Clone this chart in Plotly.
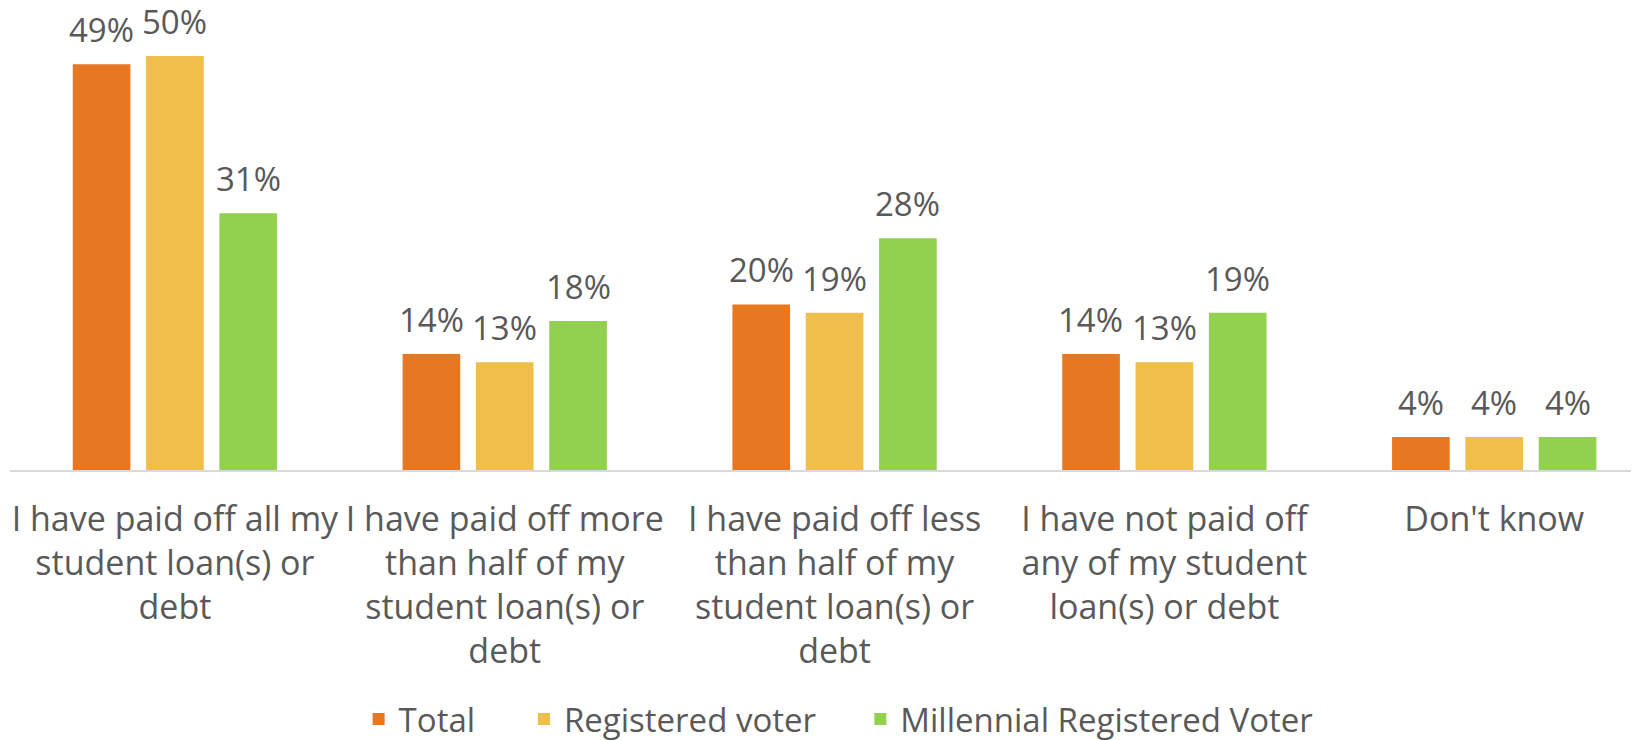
import plotly.graph_objects as go

# Categories and survey shares (percent)
categories = [
    "I have paid off all my<br>student loan(s) or<br>debt",
    "I have paid off more<br>than half of my<br>student loan(s) or<br>debt",
    "I have paid off less<br>than half of my<br>student loan(s) or<br>debt",
    "I have not paid off<br>any of my student<br>loan(s) or debt",
    "Don't know",
]
series_names = ["Total", "Registered voter", "Millennial Registered Voter"]
total = [49, 14, 20, 14, 4]
registered = [50, 13, 19, 13, 4]
millennial = [31, 18, 28, 19, 4]
colors = ["#E87722", "#F0BE4A", "#92D050"]

font_family = "Open Sans"
grey = "#595959"

fig = go.Figure()
all_values = [total, registered, millennial]
legend_ids = ["legend", "legend2", "legend3"]
for name, vals, col, lg in zip(series_names, all_values, colors, legend_ids):
    fig.add_trace(go.Bar(x=categories, y=vals, name=name, marker_color=col,
                         marker_line_width=0, legend=lg))

# Data labels above each bar
slot = 73.4
for i, vals in enumerate(all_values):
    for cat, v in zip(categories, vals):
        fig.add_annotation(x=cat, y=v, text=f"{v}%", showarrow=False,
                           xshift=(i - 1) * slot, yanchor="bottom", yshift=11,
                           borderpad=0,
                           font=dict(size=33, color=grey, family=font_family))

leg_common = dict(orientation="h", xanchor="left", yref="container", y=0.039,
                  yanchor="middle", font=dict(size=33, color=grey),
                  bgcolor="rgba(0,0,0,0)", borderwidth=0)
fig.update_layout(
    width=1639, height=740,
    margin=dict(l=2, r=8, t=0, b=278, autoexpand=False),
    plot_bgcolor="white", paper_bgcolor="white",
    barmode="group", bargap=0.333, bargroupgap=0.214,
    font=dict(family=font_family, color=grey, size=33),
    showlegend=True,
    legend=dict(x=0.214, **leg_common),
    legend2=dict(x=0.3155, **leg_common),
    legend3=dict(x=0.522, **leg_common),
)
fig.update_xaxes(range=[-0.5, 4.439], showline=True, linecolor="#D9D9D9", linewidth=2,
                 ticks="", tickfont=dict(size=34, color=grey), ticklabelstandoff=18)
fig.update_yaxes(range=[0, 55.8], visible=False, showgrid=False, zeroline=False)

fig.write_html("out.html")
